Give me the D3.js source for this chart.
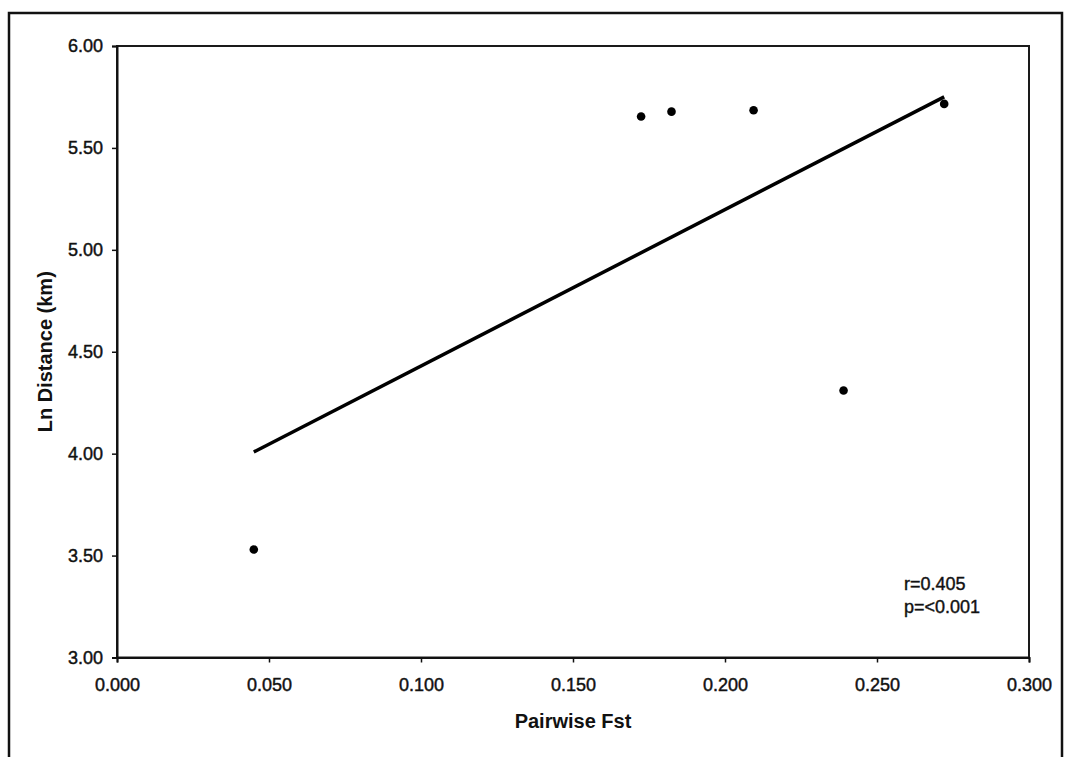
<!DOCTYPE html>
<html>
<head>
<meta charset="utf-8">
<script src="https://cdn.jsdelivr.net/npm/d3@7"></script>
<style>
  html, body { margin: 0; padding: 0; background: #fff; }
  svg { display: block; font-family: "Liberation Sans", Arial, sans-serif; }
</style>
</head>
<body>
<svg id="chart" width="1070" height="757"></svg>
<script>
// Pairwise Fst against log geographic distance
const fstValues = [0.045, 0.1724, 0.1824, 0.2094, 0.239, 0.2721];
const lnDistance = [3.53, 5.654, 5.678, 5.685, 4.31, 5.716];
const xTicks = [0, 0.05, 0.1, 0.15, 0.2, 0.25, 0.3];
const yTicks = [3.0, 3.5, 4.0, 4.5, 5.0, 5.5, 6.0];
const statLines = ["r=0.405", "p=<0.001"];

const svg = d3.select("#chart");
const W = 1070, H = 757;
const plot = { left: 117, top: 46, right: 1029, bottom: 657.5 };

const x = d3.scaleLinear().domain([0, 0.3]).range([plot.left, plot.right]);
const y = d3.scaleLinear().domain([3, 6]).range([plot.bottom, plot.top]);

// outer frame
svg.append("path")
  .attr("d", `M9,${H + 5} V13 H1062 V${H + 5}`)
  .attr("fill", "none")
  .attr("stroke", "#111")
  .attr("stroke-width", 2.5);

// plot area border
svg.append("rect")
  .attr("x", plot.left).attr("y", plot.top)
  .attr("width", plot.right - plot.left)
  .attr("height", plot.bottom - plot.top)
  .attr("fill", "none")
  .attr("stroke", "#1a1a1a")
  .attr("stroke-width", 2);

// axes
const xAxis = svg.append("g")
  .attr("transform", `translate(0,${plot.bottom})`)
  .call(d3.axisBottom(x).tickValues(xTicks).tickFormat(d3.format(".3f")).tickSize(5).tickPadding(16));
const yAxis = svg.append("g")
  .attr("transform", `translate(${plot.left},0)`)
  .call(d3.axisLeft(y).tickValues(yTicks).tickFormat(d3.format(".2f")).tickSize(5).tickPadding(9));

[xAxis, yAxis].forEach(g => {
  g.select(".domain").attr("stroke", "#111").attr("stroke-width", 2);
  g.selectAll(".tick line").attr("stroke", "#111").attr("stroke-width", 1.5);
  g.selectAll(".tick text")
    .attr("fill", "#111")
    .attr("stroke", "#111")
    .attr("stroke-width", 0.45)
    .style("font-size", "18px")
    .style("font-family", "'Liberation Sans', Arial, sans-serif");
});

// least-squares trend line over the observed Fst range
const mx = d3.mean(fstValues), my = d3.mean(lnDistance);
let sxy = 0, sxx = 0;
fstValues.forEach((v, i) => { sxy += (v - mx) * (lnDistance[i] - my); sxx += (v - mx) ** 2; });
const slope = sxy / sxx, intercept = my - slope * mx;
const [x0, x1] = d3.extent(fstValues);
svg.append("line")
  .attr("x1", x(x0)).attr("y1", y(intercept + slope * x0))
  .attr("x2", x(x1)).attr("y2", y(intercept + slope * x1))
  .attr("stroke", "#000")
  .attr("stroke-width", 3.5);

// observations
svg.append("g").selectAll("circle")
  .data(fstValues.map((v, i) => [v, lnDistance[i]]))
  .join("circle")
  .attr("cx", d => x(d[0]))
  .attr("cy", d => y(d[1]))
  .attr("r", 4.3)
  .attr("fill", "#000");

// correlation annotation
svg.append("text")
  .attr("x", 904).attr("y", 590)
  .style("font-size", "18px")
  .attr("fill", "#111")
  .attr("stroke", "#111")
  .attr("stroke-width", 0.4)
  .selectAll("tspan")
  .data(statLines)
  .join("tspan")
  .attr("x", 904)
  .attr("dy", (d, i) => i === 0 ? 0 : 23)
  .text(d => d);

// axis titles
svg.append("text")
  .attr("x", (plot.left + plot.right) / 2)
  .attr("y", 728)
  .attr("text-anchor", "middle")
  .style("font-size", "20px")
  .style("font-weight", "bold")
  .attr("fill", "#111")
  .text("Pairwise Fst");

svg.append("text")
  .attr("transform", `translate(52,${(plot.top + plot.bottom) / 2}) rotate(-90)`)
  .attr("text-anchor", "middle")
  .style("font-size", "20px")
  .style("font-weight", "bold")
  .attr("fill", "#111")
  .text("Ln Distance (km)");
</script>
</body>
</html>
